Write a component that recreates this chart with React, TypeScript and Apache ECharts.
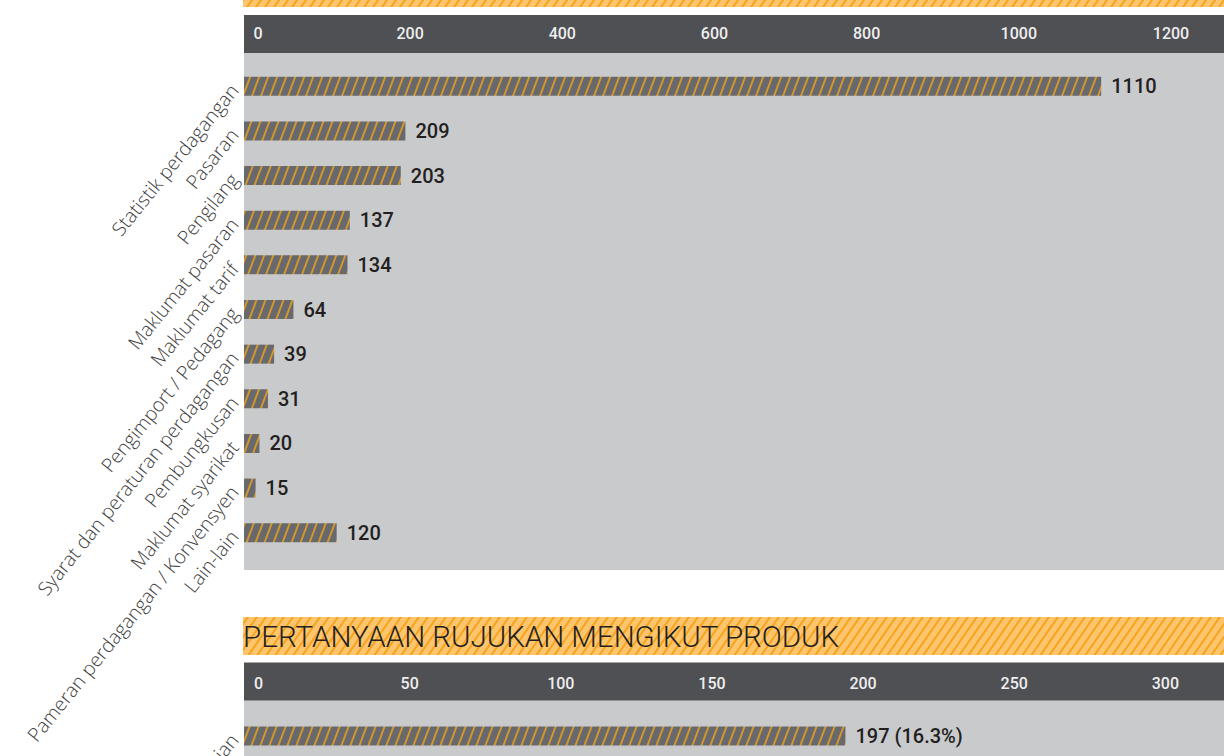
import React, { useEffect, useRef } from 'react';
import * as echarts from 'echarts';

// ---------- data ----------
const categories1 = [
  'Statistik perdagangan',
  'Pasaran',
  'Pengilang',
  'Maklumat pasaran',
  'Maklumat tarif',
  'Pengimport / Pedagang',
  'Syarat dan peraturan perdagangan',
  'Pembungkusan',
  'Maklumat syarikat',
  'Pameran perdagangan / Konvensyen',
  'Lain-lain',
];
const values1 = [1110, 209, 203, 137, 134, 64, 39, 31, 20, 15, 120];
const tickStep1 = 200;

const title2 = 'PERTANYAAN RUJUKAN MENGIKUT PRODUK';
const categories2 = ['Pertanian'];
const values2 = [197];
const shares2 = ['16.3%'];
const tickStep2 = 50;

// ---------- helpers ----------
function stripeCanvas(bg: string, fg: string, w: number, h: number, lw: number) {
  const c = document.createElement('canvas');
  c.width = w;
  c.height = h;
  const ctx = c.getContext('2d')!;
  ctx.fillStyle = bg;
  ctx.fillRect(0, 0, w, h);
  ctx.strokeStyle = fg;
  ctx.lineWidth = lw;
  for (let k = -3; k <= 3; k++) {
    ctx.beginPath();
    ctx.moveTo(k * w - w, h + h);
    ctx.lineTo(k * w + 2 * w, -h);
    ctx.stroke();
  }
  return c;
}

export default function App() {
  const ref = useRef<HTMLDivElement>(null);

  useEffect(() => {
    if (!ref.current) return;
    const chart = echarts.init(ref.current, undefined, { renderer: 'svg' });

    const barCanvas = stripeCanvas('#68696d', '#d6982c', 9, 24, 1.9);
    const bannerCanvas = stripeCanvas('#fec56f', '#f6a41c', 9, 13, 2.0);
    const barPattern: any = { image: barCanvas, repeat: 'repeat', imageWidth: 9, imageHeight: 24 };
    const bannerPattern: any = { image: bannerCanvas, repeat: 'repeat', imageWidth: 9, imageHeight: 13 };

    const DARK = '#4f5054';
    const GREY = '#c9cacc';
    const catFont = { fontFamily: '"Open Sans"', fontWeight: 300 as any, fontSize: 19.5, color: '#404040' };
    const tickFont = { fontFamily: 'Roboto', fontWeight: 500 as any, fontSize: 16, color: '#eeeeee' };
    const valFont = { fontFamily: 'Roboto', fontWeight: 500 as any, fontSize: 20, color: '#231f20' };

    const option: any = {
      animation: false,
      graphic: [
        // first (cut off) title banner
        { type: 'rect', z: 0, shape: { x: 243, y: -31, width: 981, height: 38 }, style: { fill: bannerPattern } },
        { type: 'rect', z: 0, shape: { x: 244, y: 15, width: 980, height: 38 }, style: { fill: DARK } },
        { type: 'rect', z: 0, shape: { x: 244, y: 53, width: 980, height: 517 }, style: { fill: GREY } },
        // second section
        { type: 'rect', z: 0, shape: { x: 243, y: 617, width: 981, height: 38 }, style: { fill: bannerPattern } },
        {
          type: 'text', z: 20, x: 243, y: 637,
          style: { text: title2, fill: '#231f20', font: '300 29.5px Roboto', verticalAlign: 'middle', align: 'left' },
        },
        { type: 'rect', z: 0, shape: { x: 244, y: 662.5, width: 980, height: 38.3 }, style: { fill: DARK } },
        { type: 'rect', z: 0, shape: { x: 244, y: 700.8, width: 980, height: 60 }, style: { fill: GREY } },
      ],
      grid: [
        { left: 244, top: 64, width: 980, height: 491, outerBoundsMode: 'none' },
        { left: 258, top: 32, width: 966, height: 1, outerBoundsMode: 'none' },
        { left: 244, top: 713.7, width: 980, height: 44.6, outerBoundsMode: 'none' },
        { left: 258.5, top: 682, width: 965.5, height: 1, outerBoundsMode: 'none' },
      ],
      xAxis: [
        { gridIndex: 0, type: 'value', min: 0, max: 1269, show: false },
        {
          gridIndex: 1, type: 'value', min: 0, max: 1269.7, interval: tickStep1, z: 10,
          axisLine: { show: false }, axisTick: { show: false }, splitLine: { show: false },
          axisLabel: {
            ...tickFont, margin: 0, verticalAlign: 'middle',
            formatter: (v: number) => (v % tickStep1 === 0 ? String(v) : ''),
          },
        },
        { gridIndex: 2, type: 'value', min: 0, max: 321, show: false },
        {
          gridIndex: 3, type: 'value', min: 0, max: 319.4, interval: tickStep2, z: 10,
          axisLine: { show: false }, axisTick: { show: false }, splitLine: { show: false },
          axisLabel: {
            ...tickFont, margin: 0, verticalAlign: 'middle',
            formatter: (v: number) => (v % tickStep2 === 0 ? String(v) : ''),
          },
        },
      ],
      yAxis: [
        {
          gridIndex: 0, type: 'category', inverse: true, data: categories1, z: 10,
          axisLine: { show: false }, axisTick: { show: false }, splitLine: { show: false },
          axisLabel: { ...catFont, rotate: 51, margin: 10, interval: 0 },
        },
        { gridIndex: 1, type: 'value', show: false },
        {
          gridIndex: 2, type: 'category', inverse: true, data: categories2, z: 10,
          axisLine: { show: false }, axisTick: { show: false }, splitLine: { show: false },
          axisLabel: { ...catFont, rotate: 51, margin: 10, interval: 0 },
        },
        { gridIndex: 3, type: 'value', show: false },
      ],
      series: [
        {
          type: 'bar', xAxisIndex: 0, yAxisIndex: 0, data: values1, barWidth: 19, z: 5,
          itemStyle: { color: barPattern },
          label: { show: true, position: 'right', distance: 10, ...valFont },
        },
        {
          type: 'bar', xAxisIndex: 2, yAxisIndex: 2, data: values2, barWidth: 19, z: 5,
          itemStyle: { color: barPattern },
          label: {
            show: true, position: 'right', distance: 10, ...valFont,
            formatter: (p: any) => `${p.value} (${shares2[p.dataIndex]})`,
          },
        },
      ],
    };

    chart.setOption(option);
    return () => chart.dispose();
  }, []);

  return (
    <div
      ref={ref}
      style={{ position: 'fixed', left: 0, top: 0, width: 1224, height: 756, background: '#ffffff' }}
    />
  );
}
